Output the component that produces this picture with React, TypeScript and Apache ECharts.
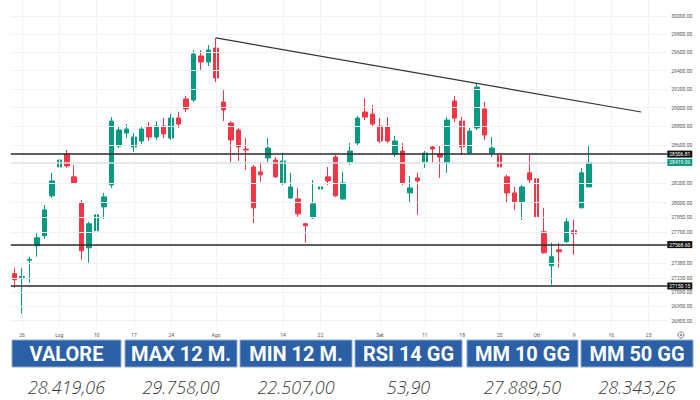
import React, { useEffect, useRef } from "react";
import * as echarts from "echarts";

// ---- data ----
const dates = [
  "2023-06-23", "2023-06-26", "2023-06-27", "2023-06-28", "2023-06-29", "2023-06-30",
  "2023-07-03", "2023-07-04", "2023-07-05", "2023-07-06", "2023-07-07", "2023-07-10",
  "2023-07-11", "2023-07-12", "2023-07-13", "2023-07-14", "2023-07-17", "2023-07-18",
  "2023-07-19", "2023-07-20", "2023-07-21", "2023-07-24", "2023-07-25", "2023-07-26",
  "2023-07-27", "2023-07-28", "2023-07-31",
  "2023-08-01", "2023-08-02", "2023-08-03", "2023-08-04", "2023-08-07", "2023-08-08",
  "2023-08-09", "2023-08-10", "2023-08-11", "2023-08-14", "2023-08-16", "2023-08-17",
  "2023-08-18", "2023-08-21", "2023-08-22", "2023-08-23", "2023-08-24", "2023-08-25",
  "2023-08-28", "2023-08-29", "2023-08-30", "2023-08-31",
  "2023-09-01", "2023-09-04", "2023-09-05", "2023-09-06", "2023-09-07", "2023-09-08",
  "2023-09-11", "2023-09-12", "2023-09-13", "2023-09-14", "2023-09-15", "2023-09-18",
  "2023-09-19", "2023-09-20", "2023-09-21", "2023-09-22", "2023-09-25", "2023-09-26",
  "2023-09-27", "2023-09-28", "2023-09-29",
  "2023-10-02", "2023-10-03", "2023-10-04", "2023-10-05", "2023-10-06", "2023-10-09",
  "2023-10-10", "2023-10-11",
  "2023-10-12", "2023-10-13", "2023-10-16", "2023-10-17", "2023-10-18", "2023-10-19",
  "2023-10-20", "2023-10-23", "2023-10-24", "2023-10-25",
];

const opens = [
  27274, 27236, 27410, 27557, 27659, 28070, 28372, 28508, 28268, 27997, 27536, 27711,
  27956, 28184, 28592, 28730, 28582, 28645, 28794, 28688, 28804, 28677, 28889, 29094,
  29083, 29560, 29494, 29647, 29061, 28836, 28762, 28560, 28372, 28320, 28466, 28445,
  28205, 28049, 28038, 27782, 27843, 28142, 28268, 28476, 28038, 28424, 28624, 28954,
  28932, 28804, 28794, 28508, 28539, 28101, 28257, 28424, 28582, 28508, 28414, 29072,
  28857, 28518, 28783, 28986, 28518, 28497, 28268, 28101, 28007, 28310, 28247, 27700,
  27354, 27516, 27598, 27711, 27946, 28163,
];
const highs = [
  27334, 27334, 27446, 27690, 27976, 28310, 28550, 28550, 28393, 28028, 27802, 27997,
  28101, 28900, 28804, 28825, 28730, 28804, 28847, 28857, 28889, 28932, 28954, 29126,
  29625, 29625, 29680, 29758, 29190, 28857, 28783, 28677, 28393, 28424, 28677, 28476,
  28518, 28310, 28153, 27792, 28236, 28310, 28372, 28497, 28320, 28624, 28911, 29104,
  29029, 28889, 28900, 28698, 28624, 28278, 28310, 28539, 28603, 28603, 28900, 29126,
  28900, 28783, 29266, 29061, 28688, 28656, 28289, 28163, 28184, 28497, 28289, 27946,
  27588, 27588, 27843, 27822, 28362, 28592,
];
const lows = [
  27133, 26874, 27183, 27446, 27628, 28049, 28341, 28362, 28195, 27415, 27385, 27628,
  27832, 28153, 28571, 28677, 28529, 28614, 28645, 28656, 28677, 28656, 28783, 28954,
  29061, 29407, 29451, 29276, 28857, 28424, 28434, 28341, 27791, 28216, 28424, 28257,
  28184, 28038, 27853, 27588, 27832, 28059, 28184, 28059, 28028, 28393, 28603, 28868,
  28794, 28624, 28624, 28476, 28184, 27997, 27874, 28362, 28414, 28257, 28310, 28847,
  28497, 28508, 28762, 28656, 28476, 28111, 27997, 27925, 27822, 28205, 27782, 27476,
  27163, 27334, 27588, 27466, 27946, 28163,
];
const closes = [
  27213, 27246, 27420, 27639, 27925, 28226, 28445, 28382, 28205, 27506, 27782, 27874,
  28059, 28857, 28762, 28772, 28688, 28772, 28688, 28804, 28720, 28889, 28825, 28986,
  29582, 29494, 29625, 29320, 28975, 28656, 28582, 28550, 27946, 28289, 28571, 28268,
  28435, 28163, 27884, 27762, 27987, 28163, 28226, 28070, 28205, 28539, 28889, 28900,
  28825, 28645, 28645, 28645, 28205, 28153, 28226, 28518, 28560, 28476, 28868, 28889,
  28582, 28751, 29222, 28709, 28571, 28372, 28101, 28007, 28163, 28236, 27853, 27486,
  27446, 27496, 27802, 27680, 28310, 28419.06,
];

const yTickValues = [
  30000, 29800, 29600, 29400, 29200, 29000, 28800, 28600, 28200, 28000, 27850, 27700,
  27380, 27230, 27090, 26950, 26805,
];
const xTickDates = [
  "2023-06-26", "2023-07-03", "2023-07-10", "2023-07-17", "2023-07-24", "2023-08-01",
  "2023-08-14", "2023-08-22", "2023-09-01", "2023-09-11", "2023-09-18", "2023-09-25",
  "2023-10-02", "2023-10-09", "2023-10-16", "2023-10-23",
];
const xTickText = ["26", "Lug", "10", "17", "24", "Ago", "14", "22", "Set", "11", "18", "25", "Ott", "9", "16", "23"];

const levelLines = [28506.81, 27568.6, 27150.15];
const lastPrice = 28419.06;
const trendDates = ["2023-08-01", "2023-10-20"];
const trendValues = [29758, 28954];

const headers = ["VALORE", "MAX 12 M.", "MIN 12 M.", "RSI 14 GG", "MM 10 GG", "MM 50 GG"];
const values = ["28.419,06", "29.758,00", "22.507,00", "53,90", "27.889,50", "28.343,26"];

// ---- styles ----
const UP = "#089981";
const DOWN = "#f23645";
const GRID = "#f1f2f4";
const HEADER_BLUE = "#2b60a6";
const cellLeft = [12, 125, 240, 355, 467, 581];
const cellWidth = [109, 112, 112, 107, 111, 112];

export default function App() {
  const ref = useRef<HTMLDivElement>(null);

  useEffect(() => {
    if (!ref.current) return;
    const chart = echarts.init(ref.current, undefined, { renderer: "svg" });

    const tickLines = yTickValues.map((v) => ({
      yAxis: v,
      lineStyle: { color: GRID, width: 1, type: "solid" },
      label: {
        show: true,
        position: "end",
        distance: 4,
        formatter: () => v.toFixed(2),
        color: "#555",
        fontSize: 5,
        fontFamily: "Roboto",
      },
    }));
    const vLines = xTickDates.map((d) => ({
      xAxis: d,
      lineStyle: { color: GRID, width: 1, type: "solid" },
      label: { show: false },
    }));
    const lastLine = {
      yAxis: lastPrice,
      lineStyle: { color: "#dde1e5", width: 1.5, type: "solid" },
      label: {
        show: true,
        position: "end",
        distance: 0,
        formatter: () => lastPrice.toFixed(2),
        color: "#fff",
        backgroundColor: UP,
        padding: [1, 2, 0, 2],
        fontSize: 5,
        lineHeight: 6,
        fontFamily: "Roboto",
      },
    };
    const levels = levelLines.map((v) => ({
      yAxis: v,
      lineStyle: { color: "#2a2a2a", width: 1.5, type: "solid" },
      label: {
        show: true,
        position: "end",
        distance: 0,
        formatter: () => v.toFixed(2),
        color: "#fff",
        backgroundColor: "#111",
        padding: [1, 2, 0, 2],
        fontSize: 5,
        lineHeight: 6,
        fontFamily: "Roboto",
      },
    }));
    const trend = [
      {
        coord: [trendDates[0], trendValues[0]],
        lineStyle: { color: "#333", width: 1.2, type: "solid" },
        label: { show: false },
      },
      { coord: [trendDates[1], trendValues[1]] },
    ];

    const graphic: any[] = [];
    headers.forEach((h, i) => {
      graphic.push({
        type: "rect",
        shape: { x: cellLeft[i], y: 340, width: cellWidth[i], height: 27 },
        style: { fill: HEADER_BLUE, stroke: "#8eaad2", lineWidth: 1 },
        silent: true,
      });
      graphic.push({
        type: "text",
        x: cellLeft[i] + cellWidth[i] / 2,
        y: 354,
        style: {
          text: h,
          fill: "#fff",
          font: "bold 20px Roboto",
          align: "center",
          verticalAlign: "middle",
        },
        silent: true,
      });
      graphic.push({
        type: "text",
        x: cellLeft[i] + cellWidth[i] / 2,
        y: 387,
        style: {
          text: values[i],
          fill: "#3a3a3a",
          font: "italic 300 18px 'Open Sans'",
          align: "center",
          verticalAlign: "middle",
        },
        silent: true,
      });
    });
    graphic.push({
      type: "circle",
      shape: { cx: 681, cy: 335, r: 3 },
      style: { fill: "none", stroke: "#777", lineWidth: 1 },
      silent: true,
    });
    graphic.push({
      type: "circle",
      shape: { cx: 681, cy: 335, r: 1 },
      style: { fill: "#777" },
      silent: true,
    });

    chart.setOption({
      animation: false,
      backgroundColor: "#fff",
      grid: { left: 10.8, right: 32.7, top: 0, height: 327 },
      xAxis: {
        type: "category",
        data: dates,
        boundaryGap: true,
        axisLine: { show: false },
        axisTick: { show: false },
        splitLine: { show: false },
        axisLabel: {
          interval: (_i: number, v: string) => xTickDates.indexOf(v) >= 0,
          formatter: (v: string) => {
            const k = xTickDates.indexOf(v);
            return k >= 0 ? xTickText[k] : "";
          },
          fontSize: 5,
          color: "#555",
          margin: 5,
          fontFamily: "Roboto",
        },
      },
      yAxis: {
        type: "log",
        logBase: 10,
        min: 26741.7,
        max: 30178,
        position: "right",
        axisLabel: { show: false },
        axisLine: { show: false },
        axisTick: { show: false },
        splitLine: { show: false },
      },
      series: [
        {
          type: "candlestick",
          data: opens.map((o, i) => [o, closes[i], lows[i], highs[i]]),
          barWidth: 5,
          clip: false,
          itemStyle: {
            color: UP,
            color0: DOWN,
            borderColor: UP,
            borderColor0: DOWN,
            borderWidth: 1,
          },
          markLine: {
            silent: true,
            symbol: ["none", "none"],
            animation: false,
            data: [...vLines, ...tickLines, lastLine, ...levels, trend],
          },
        },
      ],
      graphic,
    });

    return () => chart.dispose();
  }, []);

  return (
    <div
      ref={ref}
      style={{ position: "absolute", left: 0, top: 0, width: 700, height: 400, background: "#fff" }}
    />
  );
}
